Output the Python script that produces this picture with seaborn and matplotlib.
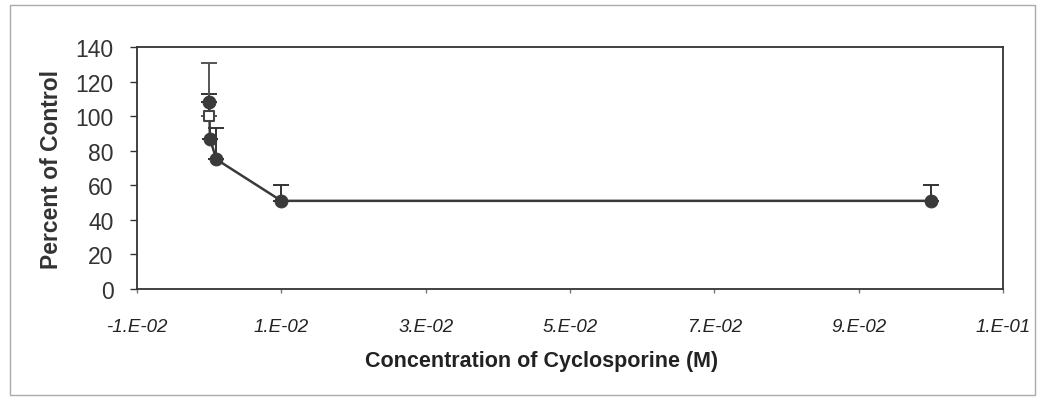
import numpy as np
import pandas as pd
import seaborn as sns
import matplotlib.pyplot as plt
from matplotlib.ticker import FuncFormatter
from matplotlib.patches import Rectangle

# data
conc = [1e-5, 1e-4, 1e-3, 1e-2, 1e-1]
pct = [108, 87, 75, 51, 51]
err_up = [5, 0, 18, 9, 9]

ctrl_conc = [0.0]
ctrl_pct = [100]
ctrl_err = [31]

xticks = [-0.01, 0.01, 0.03, 0.05, 0.07, 0.09, 0.11]
yticks = [0, 20, 40, 60, 80, 100, 120, 140]

df = pd.DataFrame({'conc': conc, 'pct': pct})

sns.set_style('white')
plt.rcParams['font.family'] = ['Liberation Sans', 'DejaVu Sans']

fig = plt.figure(figsize=(10.42, 4.02), dpi=100)
ax = fig.add_axes([0.1315, 0.2786, 0.831, 0.602])

# error bars (upper only)
ax.errorbar(conc, pct, yerr=[np.zeros(len(err_up)), err_up], fmt='none',
            ecolor='#333333', elinewidth=1.4, capsize=6, capthick=1.4, zorder=2)
ax.errorbar(ctrl_conc, ctrl_pct, yerr=[[0], ctrl_err], fmt='none',
            ecolor='#555555', elinewidth=1.4, capsize=6, capthick=1.4, zorder=2)

sns.lineplot(data=df, x='conc', y='pct', ax=ax, color='#3a3a3a', lw=1.8,
             sort=False, zorder=3)
sns.scatterplot(data=df, x='conc', y='pct', ax=ax, color='#3a3a3a', s=85,
                edgecolor='#3a3a3a', zorder=4)
ax.scatter(ctrl_conc, ctrl_pct, marker='s', s=55, facecolor='white',
           edgecolor='#444444', linewidth=1.5, zorder=5)

ax.set_xlim(-0.01, 0.11)
ax.set_ylim(0, 140)
ax.set_xticks(xticks)
ax.set_yticks(yticks)
ax.xaxis.set_major_formatter(FuncFormatter(lambda v, p: f"{v:.0E}".replace('E', '.E')))

for lbl in ax.get_xticklabels():
    lbl.set_fontstyle('italic')
    lbl.set_fontsize(13.5)
    lbl.set_color('#222222')
for lbl in ax.get_yticklabels():
    lbl.set_fontsize(16.5)
    lbl.set_color('#333333')

ax.tick_params(axis='y', direction='out', length=5, width=1, color='#333333',
               left=True, pad=12)
ax.tick_params(axis='x', direction='out', length=3, width=1, color='#777777',
               bottom=True, pad=18)

ax.set_xlabel('Concentration of Cyclosporine (M)', fontsize=15.5,
              fontweight='bold', color='#222222')
ax.xaxis.set_label_coords(0.467, -0.25)
ax.set_ylabel('Percent of Control', fontsize=16.5, fontweight='bold',
              color='#333333')
ax.yaxis.set_label_coords(-0.085, 0.5)

for s in ax.spines.values():
    s.set_color('#333333')
    s.set_linewidth(1.3)

fig.patches.append(Rectangle((0.01, 0.015), 0.983, 0.97, transform=fig.transFigure,
                             fill=False, edgecolor='#aaaaaa', lw=1))

fig.savefig('out.png', dpi=100)
